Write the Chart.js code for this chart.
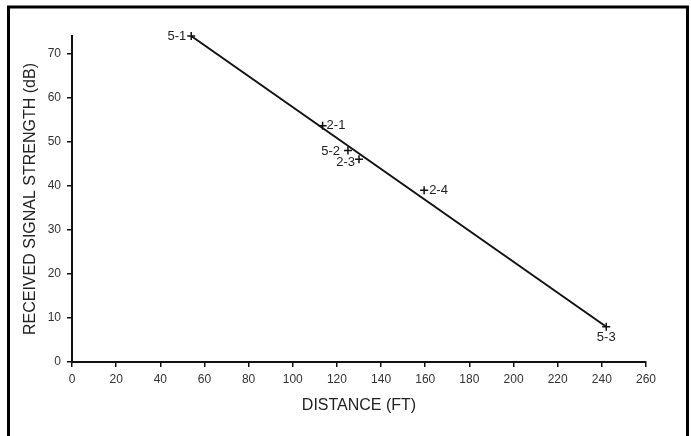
<!DOCTYPE html>
<html>
<head>
<meta charset="utf-8">
<title>Received signal strength vs distance</title>
<script src="https://cdn.jsdelivr.net/npm/chart.js@4.4.0/dist/chart.umd.min.js"></script>
<style>
  html, body { margin: 0; padding: 0; background: #fff; }
  canvas { display: block; }
</style>
</head>
<body>
<canvas id="chart" width="691" height="436"></canvas>
<script>
'use strict';

// Measured points.
var pointLabels = ['5-1', '2-1', '5-2', '2-3', '2-4', '5-3'];
var distanceFt = [54, 113.5, 125, 130, 159.5, 242];
var signalDb = [74, 53.6, 48, 46, 39, 8];

// Fitted line, drawn from end to end.
var fitDistance = [54, 242];
var fitSignal = [74, 8];

// Where each label sits relative to its point: [dx, dy, align].
var labelPlacement = [
  [-5, 0, 'right'],
  [4, 0, 'left'],
  [-8, 1, 'right'],
  [-4, 3, 'right'],
  [5, 0, 'left'],
  [0, 11, 'center']
];

var INK = '#111';
var TEXT = '#333';
var FONT = 'Liberation Sans, Arial, sans-serif';

// Frame around the whole figure, open at the bottom edge like the scan.
var framePlugin = {
  id: 'frame',
  afterDraw: function(chart) {
    var ctx = chart.ctx;
    ctx.save();
    ctx.strokeStyle = '#000';
    ctx.lineWidth = 3;
    ctx.strokeRect(8.5, 7, 679, 500);
    ctx.restore();
  }
};

// Text tags next to each measured point.
var pointLabelPlugin = {
  id: 'pointLabels',
  afterDatasetsDraw: function(chart) {
    var ctx = chart.ctx;
    var meta = chart.getDatasetMeta(1);
    ctx.save();
    ctx.font = '13px ' + FONT;
    ctx.fillStyle = '#222';
    ctx.textBaseline = 'middle';
    meta.data.forEach(function(pt, i) {
      var place = labelPlacement[i];
      ctx.textAlign = place[2];
      ctx.fillText(pointLabels[i], pt.x + place[0], pt.y + place[1]);
    });
    ctx.restore();
  }
};

function toXY(xs, ys) {
  return xs.map(function(x, i) {
    return { x: x, y: ys[i] };
  });
}

new Chart(document.getElementById('chart'), {
  type: 'scatter',
  data: {
    datasets: [
      {
        label: 'fit',
        data: toXY(fitDistance, fitSignal),
        showLine: true,
        borderColor: INK,
        borderWidth: 2,
        pointRadius: 0,
        fill: false,
        clip: false
      },
      {
        label: 'measured',
        data: toXY(distanceFt, signalDb),
        pointStyle: 'cross',
        pointRadius: 4,
        borderColor: INK,
        borderWidth: 1.5,
        clip: false
      }
    ]
  },
  options: {
    responsive: false,
    animation: false,
    layout: { padding: { top: 36, right: 45, bottom: 0, left: 0 } },
    plugins: {
      legend: { display: false },
      tooltip: { enabled: false }
    },
    scales: {
      x: {
        type: 'linear',
        min: 0,
        max: 260,
        afterFit: function(scale) { scale.height = 74; },
        ticks: {
          stepSize: 20,
          padding: 5,
          color: TEXT,
          font: { family: FONT, size: 12 }
        },
        grid: {
          drawOnChartArea: false,
          drawTicks: true,
          tickLength: 5,
          color: INK,
          lineWidth: 1.5
        },
        border: { display: true, color: INK, width: 2 },
        title: {
          display: true,
          text: 'DISTANCE (FT)',
          color: '#222',
          font: { family: FONT, size: 16 },
          padding: { top: 0, bottom: 21 }
        }
      },
      y: {
        type: 'linear',
        min: 0,
        max: 74,
        afterFit: function(scale) { scale.width = 72; },
        afterBuildTicks: function(scale) {
          scale.ticks = scale.ticks.filter(function(t) {
            return t.value % 10 === 0;
          });
        },
        ticks: {
          stepSize: 10,
          padding: 6,
          color: TEXT,
          font: { family: FONT, size: 12 }
        },
        grid: {
          drawOnChartArea: false,
          drawTicks: true,
          tickLength: 5,
          color: INK,
          lineWidth: 1.5
        },
        border: { display: true, color: INK, width: 2 },
        title: {
          display: true,
          text: 'RECEIVED SIGNAL STRENGTH (dB)',
          color: '#222',
          font: { family: FONT, size: 16 },
          padding: { top: 21, bottom: 0 }
        }
      }
    }
  },
  plugins: [framePlugin, pointLabelPlugin]
});
</script>
</body>
</html>
